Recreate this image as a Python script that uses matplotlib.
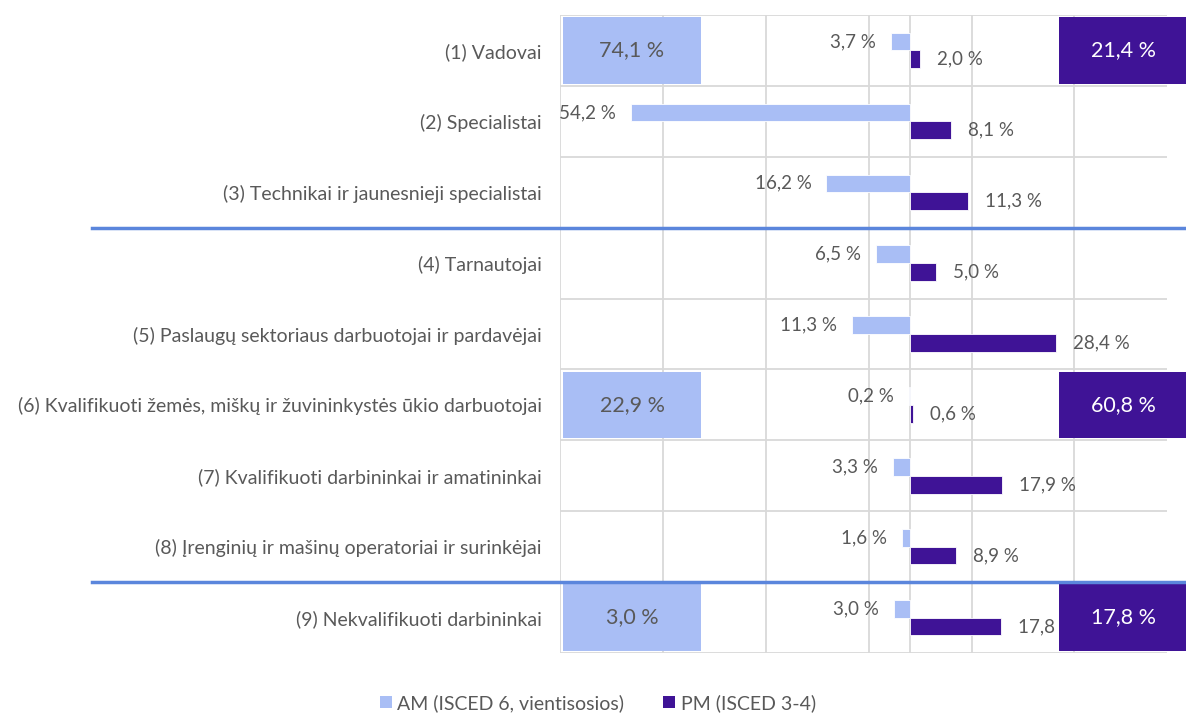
# -*- coding: utf-8 -*-
"""
AM / PM pasiskirstymas pagal profesijų grupes
"""
import matplotlib
matplotlib.use('Agg')
import matplotlib.pyplot as plt
from matplotlib.patches import Rectangle, Patch

plt.rcParams['font.family'] = ['Lato', 'DejaVu Sans']

categories = ['(1) Vadovai',
              '(2) Specialistai',
              '(3) Technikai ir jaunesnieji specialistai',
              '(4) Tarnautojai',
              '(5) Paslaugų sektoriaus darbuotojai ir pardavėjai',
              '(6) Kvalifikuoti žemės, miškų ir žuvininkystės ūkio darbuotojai',
              '(7) Kvalifikuoti darbininkai ir amatininkai',
              '(8) Įrenginių ir mašinų operatoriai ir surinkėjai',
              '(9) Nekvalifikuoti darbininkai']
am = [3.7, 54.2, 16.2, 6.5, 11.3, 0.2, 3.3, 1.6, 3.0]
pm = [2.0, 8.1, 11.3, 5.0, 28.4, 0.6, 17.9, 8.9, 17.8]

# grupių suvestinės (dėžutės kairėje ir dešinėje)
box_rows = [0, 5, 8]
box_am = [74.1, 22.9, 3.0]
box_pm = [21.4, 60.8, 17.8]

legend_labels = ['AM (ISCED 6, vientisosios)', 'PM (ISCED 3-4)']

c_am = '#A9BEF5'
c_pm = '#3F1396'
c_txt = '#595959'
c_grid = '#D9D9D9'
c_sep = '#5B86DC'


def fmt(v):
    return f'{v:.1f}'.replace('.', ',') + ' %'


W, H = 1186, 713
fig = plt.figure(figsize=(W / 100, H / 100), dpi=100)
ax = fig.add_axes([560 / W, (H - 653) / H, (1167 - 560) / W, (653 - 15) / H])

n = len(categories)
ax.set_xlim(-68, 50)
ax.set_ylim(n - 0.5, -0.5)

# tinklelis
for x in [-68, -48, -28, -8, 0, 12, 32]:
    ax.axvline(x, color=c_grid, lw=1.3, zorder=0)
for i in range(n + 1):
    ax.axhline(i - 0.5, color=c_grid, lw=1.3, zorder=0)

h = 0.25
ys = list(range(n))
ax.barh([y - h / 2 for y in ys], [-v for v in am], height=h, color=c_am,
        edgecolor='white', lw=0.6, zorder=2)
ax.barh([y + h / 2 for y in ys], pm, height=h, color=c_pm,
        edgecolor='white', lw=0.6, zorder=2)

for y, a, p in zip(ys, am, pm):
    ax.annotate(fmt(a), (-a, y - h / 2), xytext=(-15, 0), textcoords='offset pixels',
                ha='right', va='center', fontsize=13.5, color=c_txt, zorder=3)
    ax.annotate(fmt(p), (p, y + h / 2), xytext=(17, 0), textcoords='offset pixels',
                ha='left', va='center', fontsize=13.5, color=c_txt, zorder=3)

# dėžutės su suvestinėmis
for r, a, p in zip(box_rows, box_am, box_pm):
    ax.add_patch(Rectangle((-67.5, r - 0.47), 27, 0.94, facecolor=c_am,
                           edgecolor='none', zorder=4, clip_on=False))
    ax.text(-54, r, fmt(a), ha='center', va='center', fontsize=15.5,
            color=c_txt, zorder=5)
    ax.add_patch(Rectangle((29.1, r - 0.47), 24.8, 0.94, facecolor=c_pm,
                           edgecolor='none', zorder=4, clip_on=False))
    ax.text(41.5, r, fmt(p), ha='center', va='center', fontsize=15.5,
            color='white', zorder=5)

# mėlynos skiriamosios linijos
x0 = (92 - 560) / (1167 - 560)
x1 = (1186 - 560) / (1167 - 560)
for yl in [2.5, 7.5]:
    ax.axhline(yl, xmin=x0, xmax=x1, color=c_sep, lw=2.5, clip_on=False, zorder=6)

ax.set_yticks(ys)
ax.set_yticklabels(categories, fontsize=14, color=c_txt)
ax.tick_params(axis='y', length=0, pad=13)
ax.set_xticks([])
for s in ax.spines.values():
    s.set_visible(False)

handles = [Patch(facecolor=c_am), Patch(facecolor=c_pm)]
leg = fig.legend(handles, legend_labels, loc='center', ncol=2,
                 bbox_to_anchor=(598 / W, 10 / H), frameon=False,
                 fontsize=14, handlelength=0.6, handleheight=0.6,
                 handletextpad=0.3, columnspacing=2.0)
for t in leg.get_texts():
    t.set_color(c_txt)

plt.savefig('out.png', dpi=100)
